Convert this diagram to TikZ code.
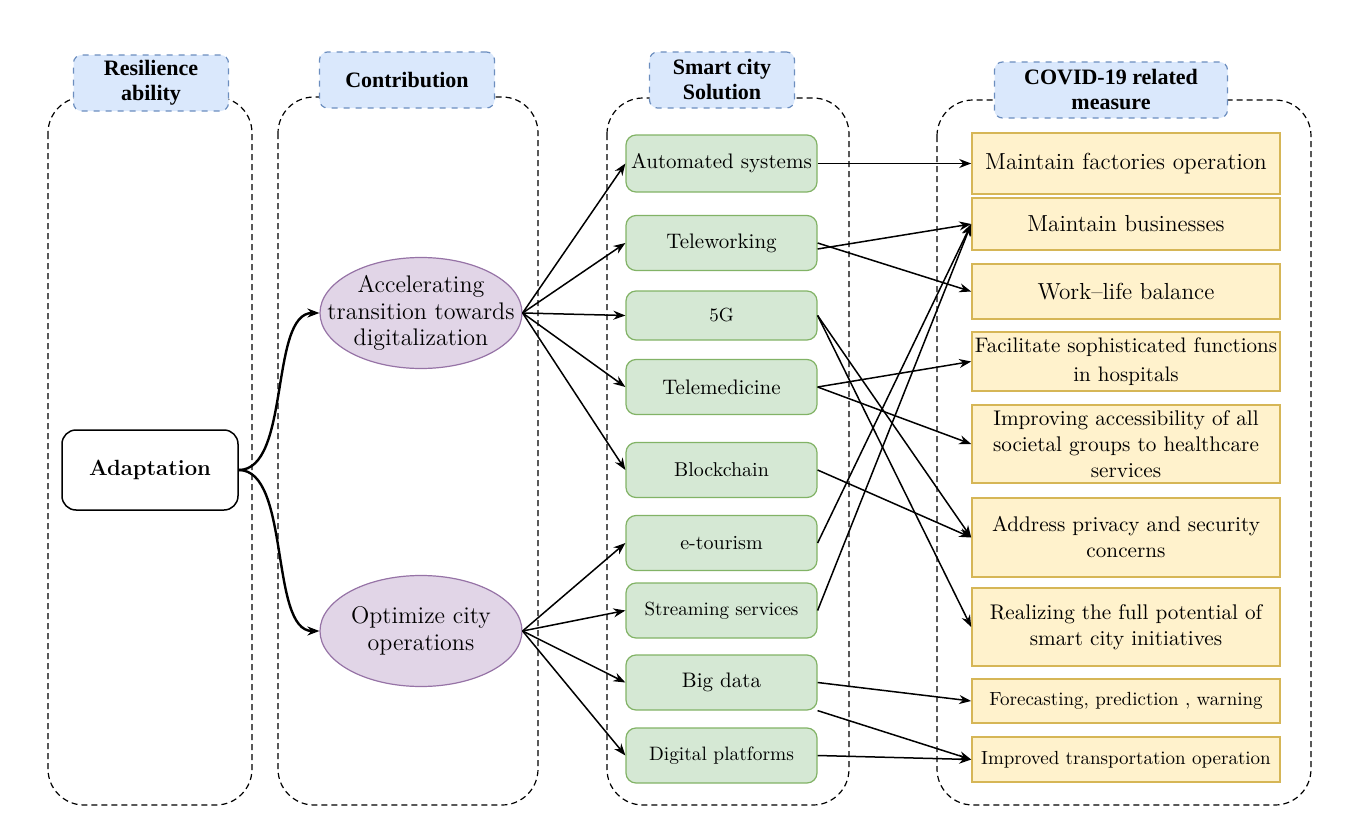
\documentclass[tikz,border=0pt]{standalone}
\usepackage{fontspec}
\usepackage{tikz}
\usepackage{xcolor}
\usetikzlibrary{arrows.meta,shapes.geometric}
\newfontfamily\headfont{Liberation Serif}
\definecolor{grnfill}{HTML}{D5E8D4}
\definecolor{grndraw}{HTML}{82B366}
\definecolor{purfill}{HTML}{E1D5E7}
\definecolor{purdraw}{HTML}{9673A6}
\definecolor{ylwfill}{HTML}{FFF2CC}
\definecolor{ylwdraw}{HTML}{D6B656}
\definecolor{hdfill}{HTML}{DAE8FC}
\definecolor{hddraw}{HTML}{6C8EBF}
\begin{document}
\begin{tikzpicture}[x=0.5pt,y=-0.5pt]
	\useasboundingbox (0,0) rectangle (1351,830);
	% lanes
	\tikzstyle{lane}=[draw=black,dash pattern=on 3pt off 2pt,line width=0.6pt,rounded corners=18pt]
	\draw[lane] (48,97) rectangle (252,805);
	\draw[lane] (278,97) rectangle (538,805);
	\draw[lane] (607,98) rectangle (849,805);
	\draw[lane] (937,100) rectangle (1311,805);
	% lane titles
	\tikzstyle{head}=[draw=hddraw,fill=hdfill,dashed,line width=0.6pt,rounded corners=4pt,inner sep=0pt,minimum height=28pt,align=center,font=\headfont\bfseries\fontsize{11}{12.5}\selectfont]
	\node[head,minimum width=77.5pt] (hres) at (151,83) {Resilience\\ability};
	\node[head,minimum width=87.5pt] (hcon) at (407,80) {Contribution};
	\node[head,minimum width=72.5pt] (hsol) at (722,80) {Smart city\\Solution};
	\node[head,minimum width=116.5pt] (hmea) at (1111,90) {COVID-19 related\\measure};
	% resilience ability
	\tikzstyle{resil}=[draw=black,line width=0.75pt,rounded corners=7pt,minimum width=88pt,minimum height=40pt,inner sep=0pt,font=\bfseries\fontsize{11}{13}\selectfont]
	\node[resil] (adapt) at (150,470) {Adaptation};
	% contributions
	\tikzstyle{contrib}=[ellipse,draw=purdraw,fill=purfill,line width=0.6pt,minimum width=101pt,minimum height=55.5pt,inner xsep=-12pt,inner ysep=0pt,align=center,font=\fontsize{12}{13.3}\selectfont]
	\node[contrib] (accel) at (421,313) {Accelerating\\transition towards\\digitalization};
	\node[contrib] (optim) at (421,631) {Optimize city\\operations};
	% smart city solutions
	\tikzstyle{sol}=[draw=grndraw,fill=grnfill,line width=0.6pt,rounded corners=5pt,minimum width=95.5pt,minimum height=27.5pt,inner sep=0pt,font=\fontsize{10.5}{12}\selectfont]
	\node[sol,minimum height=28.5pt] (auto) at (721.5,163.5) {Automated systems};
	\node[sol] (tele) at (721.5,243) {Teleworking};
	\node[sol,minimum height=24.5pt,font=\fontsize{9.5}{11}\selectfont] (fiveg) at (721.5,315.5) {5G};
	\node[sol] (tmed) at (721.5,387) {Telemedicine};
	\node[sol,font=\fontsize{10}{12}\selectfont] (block) at (721.5,470) {Blockchain};
	\node[sol,font=\fontsize{10}{12}\selectfont] (etour) at (721.5,543) {e-tourism};
	\node[sol,font=\fontsize{9.5}{11}\selectfont] (stream) at (721.5,610.5) {Streaming services};
	\node[sol] (bigd) at (721.5,682.5) {Big data};
	\node[sol,font=\fontsize{9.7}{11}\selectfont] (digi) at (721.5,755.5) {Digital platforms};
	% covid measures
	\tikzstyle{meas}=[draw=ylwdraw,fill=ylwfill,line width=0.8pt,minimum width=154pt,inner sep=0pt,align=center,font=\fontsize{10.6}{13}\selectfont]
	\tikzstyle{single}=[font=\fontsize{11.6}{13}\selectfont]
	\node[meas,single,minimum height=30.5pt] (mfact) at (1126,163.5) {Maintain factories operation};
	\node[meas,single,minimum height=26pt] (mbus) at (1126,224) {Maintain businesses};
	\node[meas,single,minimum height=27.5pt] (wlb) at (1126,291.5) {Work--life balance};
	\node[meas,minimum height=29.5pt,font=\fontsize{10.5}{14.5}\selectfont] (faci) at (1126,361.5) {Facilitate sophisticated functions\\in hospitals};
	\node[meas,minimum height=39pt] (impr) at (1126,444) {Improving accessibility of all\\societal groups to healthcare\\services};
	\node[meas,minimum height=39.5pt] (addr) at (1126,537.5) {Address privacy and security\\concerns};
	\node[meas,minimum height=39pt] (real) at (1126,627) {Realizing the full potential of\\smart city initiatives};
	\node[meas,minimum height=22pt,font=\fontsize{9.5}{11}\selectfont] (fore) at (1126,701) {Forecasting, prediction , warning};
	\node[meas,minimum height=22.5pt,font=\fontsize{9.5}{11}\selectfont] (trans) at (1126,759.5) {Improved transportation operation};
	% connectors
	\tikzstyle{arr}=[-{Stealth[length=6pt,width=4.5pt]},line width=0.75pt]
	\draw[arr,line width=1.2pt] (adapt.east) .. controls +(52,0) and +(-50,0) .. (accel.west);
	\draw[arr,line width=1.2pt] (adapt.east) .. controls +(52,0) and +(-50,0) .. (optim.west);
	\foreach \s in {auto,tele,fiveg,tmed,block}
		\draw[arr] (accel.east) -- (\s.west);
	\foreach \s in {etour,stream,bigd,digi}
		\draw[arr] (optim.east) -- (\s.west);
	\draw[arr] (auto.east) -- (mfact.west);
	\draw[arr] ([yshift=-3pt]tele.east) -- (mbus.west);
	\draw[arr] (tele.east) -- (wlb.west);
	\draw[arr] (fiveg.east) -- (addr.west);
	\draw[arr] (fiveg.east) -- (real.west);
	\draw[arr] (tmed.east) -- (faci.west);
	\draw[arr] (tmed.east) -- (impr.west);
	\draw[arr] (block.east) -- (addr.west);
	\draw[arr] (etour.east) -- (mbus.west);
	\draw[arr] (stream.east) -- (mbus.west);
	\draw[arr] (bigd.east) -- (fore.west);
	\draw[arr] (bigd.south east) -- (trans.west);
	\draw[arr] (digi.east) -- (trans.west);
\end{tikzpicture}
\end{document}
